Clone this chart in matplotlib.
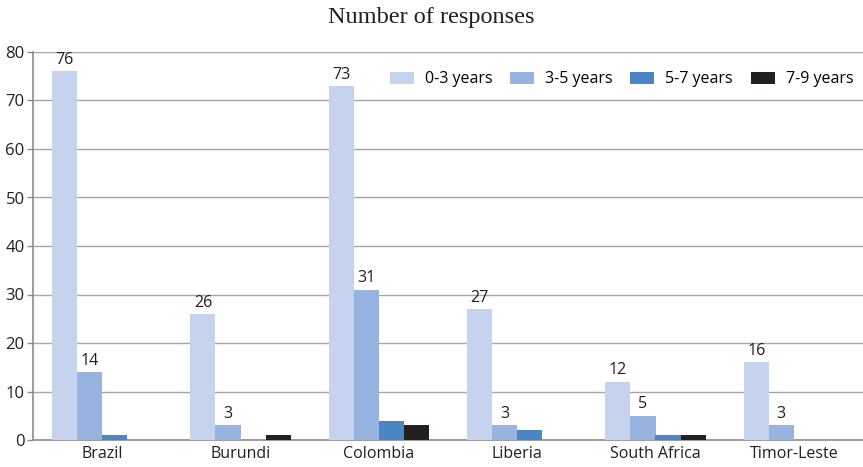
import matplotlib
matplotlib.use("Agg")
import matplotlib.pyplot as plt
import numpy as np

countries = ["Brazil", "Burundi", "Colombia", "Liberia", "South Africa", "Timor-Leste"]
series_names = ["0-3 years", "3-5 years", "5-7 years", "7-9 years"]
years_0_3 = [76, 26, 73, 27, 12, 16]
years_3_5 = [14, 3, 31, 3, 5, 3]
years_5_7 = [1, 0, 4, 2, 1, 0]
years_7_9 = [0, 1, 3, 0, 1, 0]
colors = ["#C5D3EE", "#97B3DF", "#4A86C6", "#231F20"]

plt.rcParams['font.family'] = ['Open Sans', 'DejaVu Sans']

fig = plt.figure(figsize=(8.63, 4.67), dpi=100)
ax = fig.add_axes([33 / 863, 1 - 440 / 467, 1 - 33 / 863, (440 - 52) / 467])

x = np.arange(len(countries))
w = 0.181
all_series = [years_0_3, years_3_5, years_5_7, years_7_9]
for i, (vals, name, c) in enumerate(zip(all_series, series_names, colors)):
    pos = x + (i - 1.5) * w
    ax.bar(pos, vals, width=w, color=c, label=name, zorder=3, linewidth=0)
    if i < 2:
        for p, v in zip(pos, vals):
            ax.text(p, v + 0.7, str(v), ha="center", va="bottom", fontsize=11.5,
                    color="#231F20", zorder=4)

ax.set_xlim(-0.5, len(countries) - 0.5)
ax.set_ylim(0, 80)
ax.set_yticks(range(0, 81, 10))
ax.set_xticks(x)
ax.set_xticklabels(countries)
ax.tick_params(axis="x", length=0, labelsize=11.5, pad=4, colors="#231F20")
ax.tick_params(axis="y", length=4, width=1, color="#8C8C8C", labelsize=12, pad=2,
               labelcolor="#231F20")
ax.yaxis.grid(True, color="#A6A6A6", linewidth=1, zorder=0)
for s in ["top", "right"]:
    ax.spines[s].set_visible(False)
for s in ["left", "bottom"]:
    ax.spines[s].set_color("#8C8C8C")
    ax.spines[s].set_linewidth(1.2)

ax.legend(loc="upper right", bbox_to_anchor=(1.0, 0.975), ncol=4, frameon=False,
          fontsize=11.5, handlelength=1.5, handleheight=0.75, columnspacing=1.1,
          handletextpad=0.7, borderaxespad=0.2)

fig.text(0.5, 1 - 17 / 467, "Number of responses", ha="center", va="center",
         fontsize=17.5, family="Liberation Serif", color="#231F20")

fig.savefig("out.png", dpi=100)
